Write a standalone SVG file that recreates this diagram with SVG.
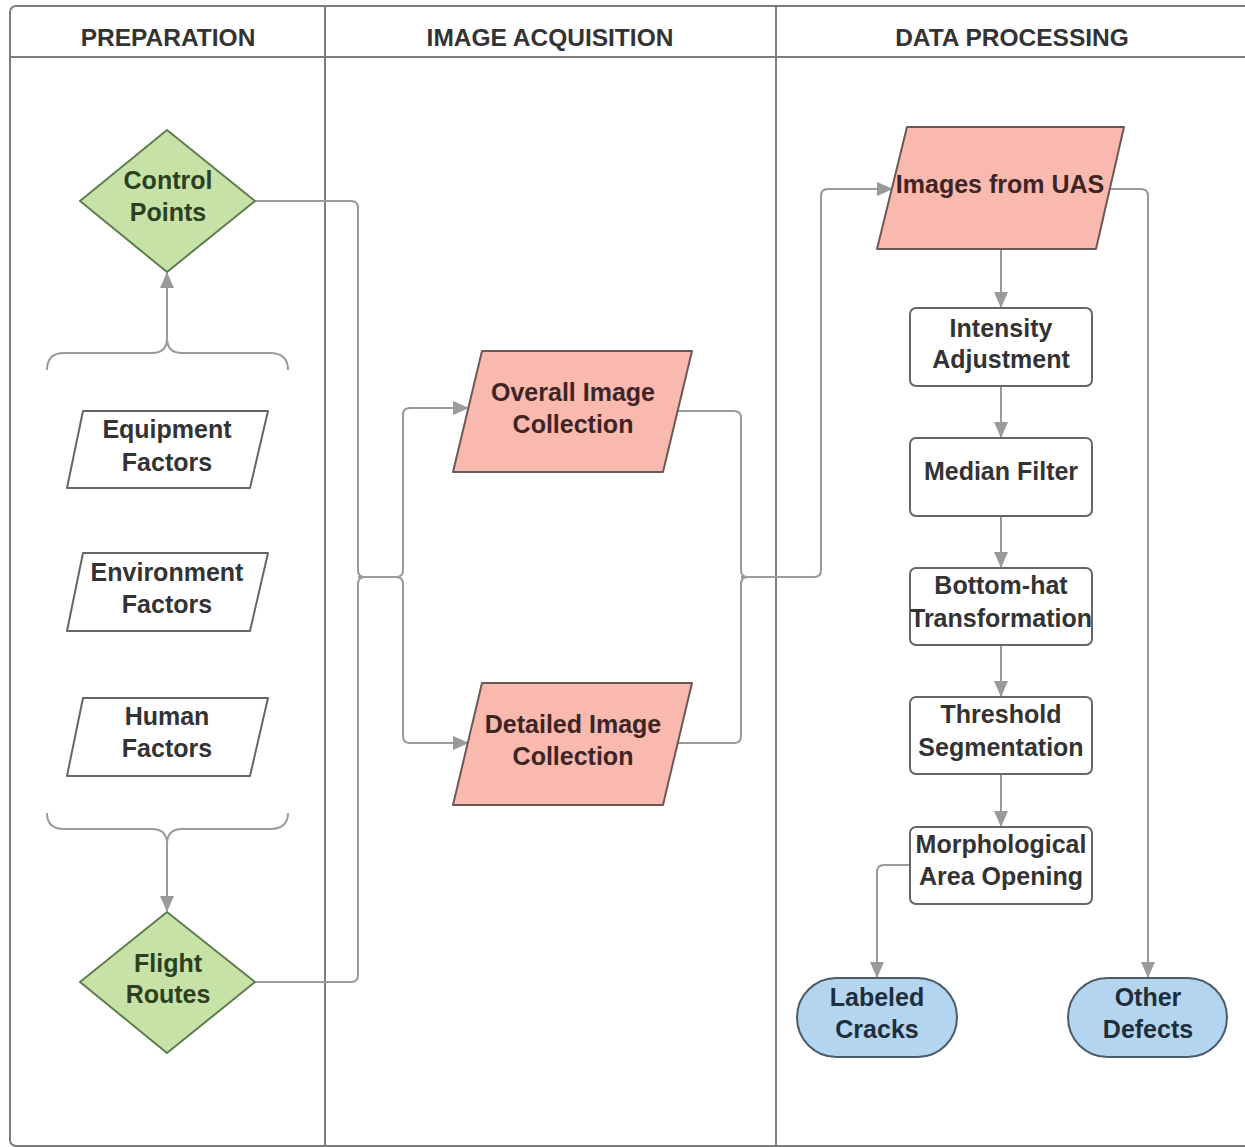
<svg xmlns="http://www.w3.org/2000/svg" width="1245" height="1147" viewBox="0 0 1245 1147">
<defs>
<marker id="arr" viewBox="0 0 16 14" refX="15" refY="7" markerWidth="16" markerHeight="14" markerUnits="userSpaceOnUse" orient="auto">
<path d="M0,0 L16,7 L0,14 Z" fill="#9a9a9a"/>
</marker>
<style>
text{font-family:"Liberation Sans",Arial,sans-serif;font-weight:bold;text-anchor:middle;font-size:25px}
.hdr{font-size:24.5px;fill:#333}
.lane{fill:none;stroke:#7c7c7c;stroke-width:2}
.dia{fill:#c6e2a6;stroke:#5f7d4f;stroke-width:2;stroke-linejoin:round}
.dia-t{fill:#2c401f}
.pin{fill:#f9b9ae;stroke:#6b5956;stroke-width:2;stroke-linejoin:round}
.pin-t{fill:#3e2424}
.par{fill:#fff;stroke:#666;stroke-width:2;stroke-linejoin:round}
.box{fill:#fff;stroke:#666;stroke-width:2}
.dark{fill:#333}
.term{fill:#b3d5ef;stroke:#4d5b68;stroke-width:2}
.term-t{fill:#1f2e3d}
.c{fill:none;stroke:#9a9a9a;stroke-width:2}
.ca{fill:none;stroke:#9a9a9a;stroke-width:2;marker-end:url(#arr)}
</style>
</defs>
<rect width="1245" height="1147" fill="#fff"/>
<g id="lanes">
<rect class="lane" x="10" y="6" width="1250" height="1140" rx="6"/>
<line class="lane" x1="10" y1="57" x2="1245" y2="57"/>
<line class="lane" x1="325" y1="6" x2="325" y2="1146"/>
<line class="lane" x1="776" y1="6" x2="776" y2="1146"/>
<text class="hdr" x="168" y="46">PREPARATION</text>
<text class="hdr" x="550" y="46">IMAGE ACQUISITION</text>
<text class="hdr" x="1012" y="46">DATA PROCESSING</text>
</g>
<g id="connectors">
<path class="c" d="M47,370 Q47,353 64,353 L152,353 Q167,353 167,338 Q167,353 182,353 L270,353 Q288,353 288,370"/>
<path class="ca" d="M167,338 L167,273"/>
<path class="c" d="M47,813 Q47,829 64,829 L152,829 Q167,829 167,844 Q167,829 182,829 L270,829 Q288,829 288,813"/>
<path class="ca" d="M167,844 L167,911"/>
<path class="c" d="M255,201 L351,201 Q358,201 358,208 L358,570 Q358,577 365,577"/>
<path class="c" d="M255,982 L351,982 Q358,982 358,975 L358,584 Q358,577 365,577"/>
<path class="c" d="M358,577 L396,577"/>
<path class="ca" d="M396,577 Q403,577 403,570 L403,415 Q403,408 410,408 L468,408"/>
<path class="ca" d="M396,577 Q403,577 403,584 L403,736 Q403,743 410,743 L468,743"/>
<path class="c" d="M678,411 L734,411 Q741,411 741,418 L741,570 Q741,577 748,577"/>
<path class="c" d="M678,743 L734,743 Q741,743 741,736 L741,584 Q741,577 748,577"/>
<path class="ca" d="M741,577 L814,577 Q821,577 821,570 L821,196 Q821,189 828,189 L892,189"/>
<path class="ca" d="M1001,249 L1001,307"/>
<path class="ca" d="M1001,386 L1001,437"/>
<path class="ca" d="M1001,516 L1001,567"/>
<path class="ca" d="M1001,645 L1001,696"/>
<path class="ca" d="M1001,774 L1001,826"/>
<path class="ca" d="M910,865 L884,865 Q877,865 877,872 L877,977"/>
<path class="ca" d="M1110,189 L1141,189 Q1148,189 1148,196 L1148,977"/>
</g>
<g id="control-points">
<path class="dia" d="M167,130 L255,201 L167,272 L80,201 Z"/>
<text class="dia-t" x="168" y="189">Control</text>
<text class="dia-t" x="168" y="221">Points</text>
</g>
<g id="equipment-factors">
<path class="par" d="M83,411 L268,411 L250,488 L67,488 Z"/>
<text class="dark" x="167" y="438">Equipment</text>
<text class="dark" x="167" y="471">Factors</text>
</g>
<g id="environment-factors">
<path class="par" d="M83,553 L268,553 L250,631 L67,631 Z"/>
<text class="dark" x="167" y="581">Environment</text>
<text class="dark" x="167" y="613">Factors</text>
</g>
<g id="human-factors">
<path class="par" d="M83,698 L268,698 L250,776 L67,776 Z"/>
<text class="dark" x="167" y="725">Human</text>
<text class="dark" x="167" y="757">Factors</text>
</g>
<g id="flight-routes">
<path class="dia" d="M167,912 L255,982 L167,1053 L80,982 Z"/>
<text class="dia-t" x="168" y="972">Flight</text>
<text class="dia-t" x="168" y="1003">Routes</text>
</g>
<g id="overall-image-collection">
<path class="pin" d="M482,351 L692,351 L663,472 L453,472 Z"/>
<text class="pin-t" x="573" y="401">Overall Image</text>
<text class="pin-t" x="573" y="433">Collection</text>
</g>
<g id="detailed-image-collection">
<path class="pin" d="M482,683 L692,683 L663,805 L453,805 Z"/>
<text class="pin-t" x="573" y="733">Detailed Image</text>
<text class="pin-t" x="573" y="765">Collection</text>
</g>
<g id="images-from-uas">
<path class="pin" d="M907,127 L1124,127 L1096,249 L877,249 Z"/>
<text class="pin-t" x="1000" y="193">Images from UAS</text>
</g>
<g id="intensity-adjustment">
<rect class="box" x="910" y="308" width="182" height="78" rx="6"/>
<text class="dark" x="1001" y="337">Intensity</text>
<text class="dark" x="1001" y="368">Adjustment</text>
</g>
<g id="median-filter">
<rect class="box" x="910" y="438" width="182" height="78" rx="6"/>
<text class="dark" x="1001" y="480">Median Filter</text>
</g>
<g id="bottom-hat">
<rect class="box" x="910" y="568" width="182" height="77" rx="6"/>
<text class="dark" x="1001" y="594">Bottom-hat</text>
<text class="dark" x="1001" y="627">Transformation</text>
</g>
<g id="threshold-segmentation">
<rect class="box" x="910" y="697" width="182" height="77" rx="6"/>
<text class="dark" x="1001" y="723">Threshold</text>
<text class="dark" x="1001" y="756">Segmentation</text>
</g>
<g id="morphological-area-opening">
<rect class="box" x="910" y="827" width="182" height="77" rx="6"/>
<text class="dark" x="1001" y="853">Morphological</text>
<text class="dark" x="1001" y="885">Area Opening</text>
</g>
<g id="labeled-cracks">
<rect class="term" x="797" y="978" width="160" height="79" rx="39.5"/>
<text class="term-t" x="877" y="1006">Labeled</text>
<text class="term-t" x="877" y="1038">Cracks</text>
</g>
<g id="other-defects">
<rect class="term" x="1068" y="978" width="159" height="79" rx="39.5"/>
<text class="term-t" x="1148" y="1006">Other</text>
<text class="term-t" x="1148" y="1038">Defects</text>
</g>
</svg>
